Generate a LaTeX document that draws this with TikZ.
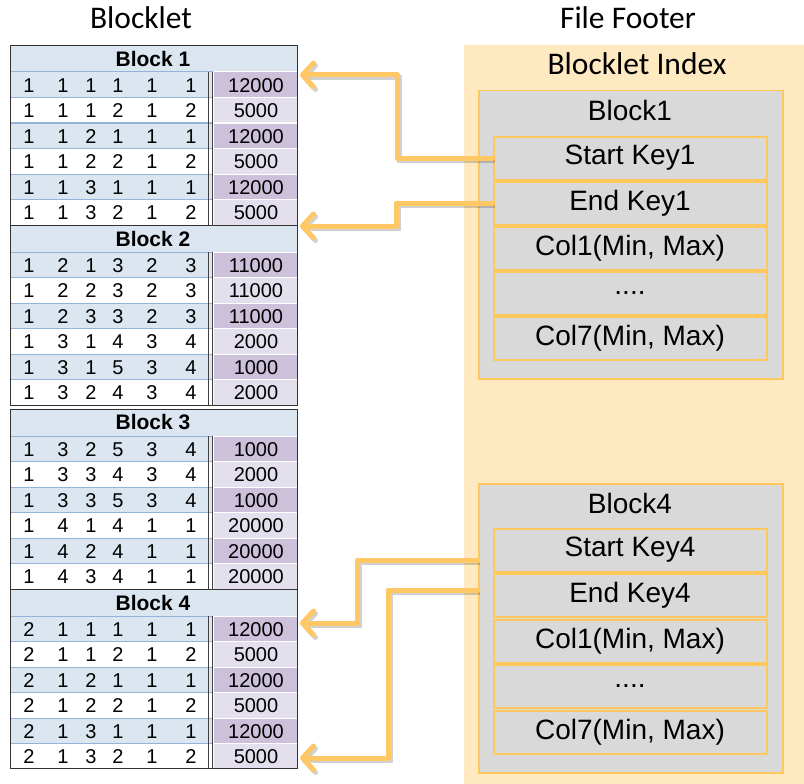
\documentclass[tikz,border=0pt]{standalone}
\usepackage{fontspec}
\setmainfont{Liberation Sans}
\newfontfamily\calib{Carlito}
\usetikzlibrary{arrows.meta}
\definecolor{hdrblue}{HTML}{DCE6F1}
\definecolor{rowline}{HTML}{95B3D7}
\definecolor{purpdark}{HTML}{CCC0DA}
\definecolor{purplite}{HTML}{E4DFEC}
\definecolor{bgorange}{HTML}{FFE9C1}
\definecolor{orng}{HTML}{FFC85C}
\definecolor{arrc}{HTML}{FFC864}
\definecolor{boxgray}{HTML}{D9D9D9}
\tikzset{
  cell/.style={inner sep=0pt, font=\fontsize{20}{22}\selectfont},
  hdr/.style={inner sep=0pt, font=\bfseries\fontsize{21}{23}\selectfont},
  title/.style={inner sep=0pt, font=\calib\fontsize{31.5}{34}\selectfont},
  keyrow/.style={draw=orng, line width=2pt, fill=boxgray, minimum width=273pt, minimum height=43pt, inner sep=0pt, font=\fontsize{28}{30}\selectfont},
  blockbox/.style={draw=orng, line width=1.5pt, fill=boxgray, minimum width=304pt, anchor=north west, inner sep=0pt},
  boxlabel/.style={inner sep=0pt, font=\fontsize{28}{30}\selectfont},
  arr/.style={draw=arrc, line width=5pt, line join=round, line cap=round,
    -{Straight Barb[length=11pt, width=24pt, round]},
    preaction={draw=black, opacity=0.18, line width=5pt, transform canvas={xshift=2pt,yshift=-2.5pt}}},
  tblborder/.style={draw=black!80, line width=0.8pt},
}
\newcommand\drawblock[4]{%
  \fill[hdrblue] (10,#1) rectangle (297,#1+27);
  \node[hdr] (#2h) at (153,#1+13.5) {#3};
  \foreach \a/\b/\c/\d/\e/\f/\v [count=\i] in {#4} {
    \pgfmathsetmacro\yt{#1+27+(\i-1)*25.5}
    \pgfmathsetmacro\yb{\yt+25.5}
    \pgfmathsetmacro\yc{\yt+13.5}
    \ifodd\i\relax
      \fill[hdrblue] (10,\yt) rectangle (213,\yb);
      \fill[purpdark] (214,\yt) rectangle (297,\yb);
    \else
      \fill[purplite] (214,\yt) rectangle (297,\yb);
    \fi
    \draw[white, line width=1pt] (214,\yt) -- (297,\yt);
    \draw[rowline, line width=1pt] (10,\yt) -- (213,\yt);
    \node[cell] (#2-\i-1) at (29,\yc) {\a};
    \node[cell] (#2-\i-2) at (63,\yc) {\b};
    \node[cell] (#2-\i-3) at (91,\yc) {\c};
    \node[cell] (#2-\i-4) at (118,\yc) {\d};
    \node[cell] (#2-\i-5) at (152,\yc) {\e};
    \node[cell] (#2-\i-6) at (191,\yc) {\f};
    \node[cell] (#2-\i-v) at (256,\yc) {\v};
  }
  \draw[black!75, line width=0.9pt] (208,#1+27) -- (208,#1+180);
  \draw[black!75, line width=0.9pt] (212,#1+27) -- (212,#1+180);
}
\begin{document}
\begin{tikzpicture}[x=1pt,y=-1pt]
\useasboundingbox (0,0) rectangle (804,784);

% titles
\node[title] (tblocklet) at (141,18) {Blocklet};
\node[title] (tfooter) at (628,18) {File Footer};

% left tables
\drawblock{45}{b1}{Block 1}{1/1/1/1/1/1/12000,1/1/1/2/1/2/5000,1/1/2/1/1/1/12000,1/1/2/2/1/2/5000,1/1/3/1/1/1/12000,1/1/3/2/1/2/5000}
\drawblock{225}{b2}{Block 2}{1/2/1/3/2/3/11000,1/2/2/3/2/3/11000,1/2/3/3/2/3/11000,1/3/1/4/3/4/2000,1/3/1/5/3/4/1000,1/3/2/4/3/4/2000}
\drawblock{409}{b3}{Block 3}{1/3/2/5/3/4/1000,1/3/3/4/3/4/2000,1/3/3/5/3/4/1000,1/4/1/4/1/1/20000,1/4/2/4/1/1/20000,1/4/3/4/1/1/20000}
\drawblock{589}{b4}{Block 4}{2/1/1/1/1/1/12000,2/1/1/2/1/2/5000,2/1/2/1/1/1/12000,2/1/2/2/1/2/5000,2/1/3/1/1/1/12000,2/1/3/2/1/2/5000}
\draw[tblborder] (10,45) rectangle (297,405);
\draw[tblborder] (10,225) -- (297,225);
\draw[tblborder] (10,409) rectangle (297,768);
\draw[tblborder] (10,589) -- (297,589);

% footer
\node[fill=bgorange, minimum width=340pt, minimum height=739pt, anchor=north west, inner sep=0pt] (footer) at (464,45) {};
\node[title] (bindex) at (637,64) {Blocklet Index};

\node[blockbox, minimum height=288pt] (blk1) at (478,90) {};
\node[boxlabel] (blk1l) at (630,110) {Block1};
\node[keyrow] (sk1) at (630,158) {Start Key1};
\node[keyrow] (ek1) at (630,203) {End Key1};
\node[keyrow] (c11) at (630,248) {Col1(Min, Max)};
\node[keyrow] (d1) at (630,293) {....};
\node[keyrow] (c17) at (630,338.5) {Col7(Min, Max)};

\node[blockbox, minimum height=289pt] (blk4) at (478,483) {};
\node[boxlabel] (blk4l) at (630,503) {Block4};
\node[keyrow] (sk4) at (630,550) {Start Key4};
\node[keyrow] (ek4) at (630,595.5) {End Key4};
\node[keyrow] (c41) at (630,641) {Col1(Min, Max)};
\node[keyrow] (d4) at (630,686) {....};
\node[keyrow] (c47) at (630,732) {Col7(Min, Max)};

% arrow ends
\coordinate (t1) at (300,75);
\coordinate (t2) at (300,226);
\coordinate (t3) at (300,623);
\coordinate (t4) at (300,758);
\coordinate (s3) at (478,560);
\coordinate (s4) at (478,590);

\draw[arr] (sk1.west) -- (397,158) |- (t1);
\draw[arr] (ek1.west) -- (396,203) |- (t2);
\draw[arr] (s3) -- (357,560) |- (t3);
\draw[arr] (s4) -- (388,590) |- (t4);
\end{tikzpicture}
\end{document}
